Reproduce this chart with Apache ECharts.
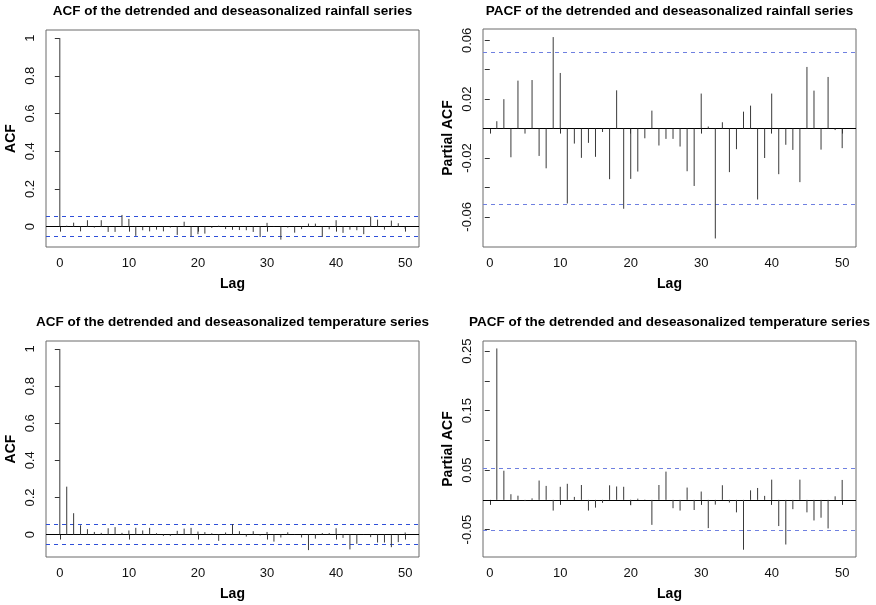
<!DOCTYPE html>
<html>
<head>
<meta charset="utf-8">
<script src="https://cdn.jsdelivr.net/npm/echarts@6/dist/echarts.min.js"></script>
<style>html,body{margin:0;padding:0;background:#fff}#c{width:876px;height:605px}</style>
</head>
<body>
<div id="c"></div>
<script>
// ---- data ----
const titles = [
  'ACF of the detrended and deseasonalized rainfall series',
  'PACF of the detrended and deseasonalized rainfall series',
  'ACF of the detrended and deseasonalized temperature series',
  'PACF of the detrended and deseasonalized temperature series'
];
const acfLags = [0,1,2,3,4,5,6,7,8,9,10,11,12,13,14,15,16,17,18,19,20,21,22,23,24,25,26,27,28,29,30,31,32,33,34,35,36,37,38,39,40,41,42,43,44,45,46,47,48,49,50];
const pacfLags = acfLags.slice(1);
const acfRain = [1,0.005,0.021,-0.025,0.034,-0.005,0.034,-0.028,-0.028,0.062,0.041,
  -0.049,-0.019,-0.025,-0.016,-0.025,-0.005,-0.044,0.026,-0.053,-0.040,
  -0.037,-0.007,0.005,-0.013,-0.017,-0.018,-0.019,-0.028,-0.055,0.020,
  0.002,-0.069,-0.005,-0.032,-0.013,0.016,0.016,-0.055,-0.014,0.034,
  -0.033,-0.016,-0.019,-0.040,0.053,0.037,-0.016,0.032,0.018,-0.011];
const pacfRain = [0.005,0.020,-0.0195,0.0326,-0.0034,0.033,-0.0186,-0.027,0.0622,0.0378,
  -0.0509,-0.0102,-0.0199,-0.0097,-0.0192,-0.0023,-0.0344,0.026,-0.0545,-0.0342,
  -0.0292,-0.0066,0.0122,-0.0115,-0.007,-0.007,-0.0122,-0.029,-0.039,0.0238,
  0.0014,-0.0747,0.0043,-0.0296,-0.014,0.0115,0.0156,-0.0482,-0.020,0.0238,
  -0.031,-0.011,-0.0145,-0.0364,0.0419,0.0258,-0.0143,0.0351,-0.001,-0.0133];
const acfTemp = [1,0.258,0.115,0.050,0.029,0.014,0.009,0.034,0.040,0.009,0.022,
  0.036,0.022,0.036,0.007,-0.007,-0.007,0.020,0.032,0.036,0.016,
  0.013,0.007,-0.034,0.011,0.056,0.018,-0.011,0.018,-0.005,0.014,
  -0.038,-0.016,0.012,0.002,-0.016,-0.084,-0.022,0.008,0.008,0.034,
  -0.018,-0.080,-0.050,0.002,-0.014,-0.043,-0.043,-0.068,-0.041,0.011];
const pacfTemp = [0.2545,0.049,0.0095,0.007,-0.002,0.0025,0.0325,0.0235,-0.018,0.022,
  0.027,0.005,0.025,-0.018,-0.013,-0.005,0.0245,0.0225,0.022,-0.009,
  0.002,0.0005,-0.042,0.025,0.0475,-0.014,-0.018,0.0207,-0.017,0.014,
  -0.0475,-0.008,0.0246,-0.0045,-0.021,-0.0838,0.016,0.020,0.0067,0.034,
  -0.044,-0.075,-0.0156,0.034,-0.021,-0.0346,-0.030,-0.048,0.006,0.0335];
const confLimit = 0.052;
const xTicks = [0,10,20,30,40,50];
const acfYTicks = [0,0.2,0.4,0.6,0.8,1];
const pacfRainYTicks = [-0.06,-0.04,-0.02,0,0.02,0.04,0.06];
const pacfRainYLabels = [-0.06,-0.02,0.02,0.06];
const pacfTempYTicks = [-0.05,0,0.05,0.1,0.15,0.2,0.25];
const pacfTempYLabels = [-0.05,0.05,0.15,0.25];
const yNames = ['ACF','Partial ACF','ACF','Partial ACF'];
const xName = 'Lag';

// ---- layout ----
const FONT = '"Liberation Sans", Arial, sans-serif';
const grids = [
  {left:46, top:30, width:373, height:217},
  {left:483, top:29, width:373, height:218},
  {left:46, top:341, width:373, height:216},
  {left:483, top:341, width:373, height:216}
];
const xRanges = [[-2,52],[-0.96,51.96],[-2,52],[-0.96,51.96]];
const yRanges = [[-0.108,1.043],[-0.0805,0.0677],[-0.121,1.043],[-0.096,0.267]];
const yTickSets = [acfYTicks, pacfRainYTicks, acfYTicks, pacfTempYTicks];
const yLabelSets = [acfYTicks, pacfRainYLabels, acfYTicks, pacfTempYLabels];
const seriesData = [
  acfLags.map((l,i)=>[l,acfRain[i]]),
  pacfLags.map((l,i)=>[l,pacfRain[i]]),
  acfLags.map((l,i)=>[l,acfTemp[i]]),
  pacfLags.map((l,i)=>[l,pacfTemp[i]])
];
const titleTops = [4, 4, 315, 315];
const ciColors = ['#2f4fd8','#6f80e0','#2f4fd8','#6f80e0'];

function renderStem(params, api) {
  const x = api.value(0), y = api.value(1);
  const p0 = api.coord([x, 0]);
  const p1 = api.coord([x, y]);
  return {type:'line', shape:{x1:p0[0], y1:p0[1], x2:p1[0], y2:p1[1]},
    style:{stroke:'#3a3a3a', lineWidth:1}};
}
// horizontal reference line across the plot, snapped to an even pixel row
function makeHLine(color, dash) {
  return function(params, api) {
    const cs = params.coordSys;
    const y = api.coord([0, api.value(1)])[1];
    const py = Math.round((y - 0.5) / 2) * 2 + 0.5;
    return {type:'line', shape:{x1:cs.x, y1:py, x2:cs.x + cs.width, y2:py},
      style:{stroke:color, lineWidth:1, lineDash:dash}};
  };
}

const series = [];
seriesData.forEach((d,i)=>{
  series.push({type:'custom', xAxisIndex:i, yAxisIndex:i, data:[[0, confLimit],[0, -confLimit]],
    renderItem:makeHLine(ciColors[i], [4,4]), silent:true, clip:false});
  series.push({type:'custom', xAxisIndex:i, yAxisIndex:i, data:[[0, 0]],
    renderItem:makeHLine('#000', null), silent:true, clip:false});
  series.push({type:'custom', xAxisIndex:i, yAxisIndex:i, data:d, renderItem:renderStem, silent:true});
});

const option = {
  animation:false,
  backgroundColor:'#fff',
  textStyle:{fontFamily:FONT},
  title: titles.map((t,i)=>({
    text:t, left: grids[i].left + grids[i].width/2, top:titleTops[i], textAlign:'center', padding:0,
    textStyle:{fontFamily:FONT, fontSize:13.5, fontWeight:'bold', color:'#000'}
  })),
  grid: grids.map(g=>Object.assign({show:true, borderColor:'#6a6a6a', borderWidth:1, backgroundColor:'transparent'}, g)),
  xAxis: grids.map((g,i)=>({
    type:'value', gridIndex:i, min:xRanges[i][0], max:xRanges[i][1],
    name:xName, nameLocation:'middle', nameGap:30,
    nameTextStyle:{fontFamily:FONT, fontSize:14, fontWeight:'bold', color:'#000'},
    axisLine:{show:false},
    axisTick:{show:true, inside:false, length:5, customValues:xTicks, lineStyle:{color:'#333'}},
    axisLabel:{show:true, customValues:xTicks, margin:10, fontSize:13, color:'#111', fontFamily:FONT},
    splitLine:{show:false}
  })),
  yAxis: grids.map((g,i)=>({
    type:'value', gridIndex:i, min:yRanges[i][0], max:yRanges[i][1],
    name:yNames[i], nameLocation:'middle', nameGap:28,
    nameTextStyle:{fontFamily:FONT, fontSize:14, fontWeight:'bold', color:'#000'},
    axisLine:{show:false},
    axisTick:{show:true, inside:false, length:5, customValues:yTickSets[i], lineStyle:{color:'#333'}},
    axisLabel:{show:true, customValues:yLabelSets[i], rotate:90, margin:9, fontSize:13, color:'#111', fontFamily:FONT},
    splitLine:{show:false}
  })),
  series: series
};
const chart = echarts.init(document.getElementById('c'), null, {renderer:'canvas'});
chart.setOption(option);
</script>
</body>
</html>
